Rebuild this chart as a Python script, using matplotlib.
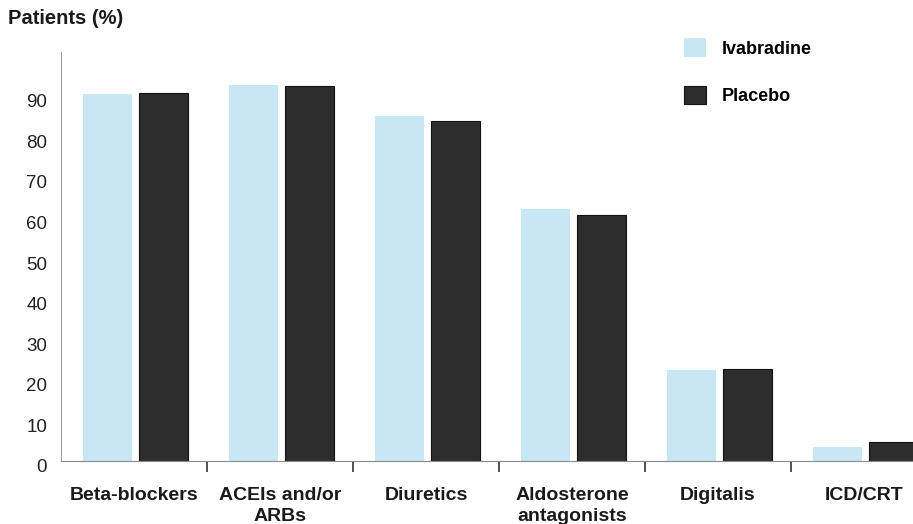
import numpy as np
import matplotlib.pyplot as plt
import matplotlib.transforms as mtransforms
from matplotlib.ticker import FixedLocator

plt.rcParams['font.family'] = ['Liberation Sans', 'DejaVu Sans']

# Tratamientos de base por grupo (% de pacientes)
categorias = ['Beta-blockers', 'ACEIs and/or\nARBs', 'Diuretics',
              'Aldosterone\nantagonists', 'Digitalis', 'ICD/CRT']
ivabradina = [90.4, 92.6, 85.1, 62.1, 22.4, 3.5]
placebo = [90.7, 92.4, 83.8, 60.6, 22.7, 4.8]
ticks_y = [0, 10, 20, 30, 40, 50, 60, 70, 80, 90]

color_iva = '#c6e7f3'
color_pla = '#2d2d2d'

fig = plt.figure(figsize=(9.13, 5.24), dpi=100)
ax = fig.add_axes([61 / 913, 63 / 524, 876 / 913, 409 / 524])

x = np.arange(len(categorias))
ancho = 0.335
ax.bar(x - 0.183, ivabradina, ancho, color=color_iva, label='Ivabradine')
ax.bar(x + 0.2, placebo, ancho, color=color_pla, edgecolor='#111111',
       linewidth=0.8, label='Placebo')

ax.set_xlim(-0.5, len(categorias) - 0.5)
ax.set_ylim(0, 100.8)

ax.set_xticks(x)
ax.set_xticklabels(categorias, fontsize=14, fontweight='bold', color='#1a1a1a',
                   linespacing=1.3)
ax.tick_params(axis='x', which='major', length=0, pad=19)
ax.xaxis.set_minor_locator(FixedLocator(x[:-1] + 0.5))
ax.tick_params(axis='x', which='minor', length=8, width=1.2, color='#333333')

ax.set_yticks(ticks_y)
ax.set_yticklabels([str(t) for t in ticks_y], fontsize=13.5, color='#222222')
ax.tick_params(axis='y', length=0, pad=10)
# etiquetas del eje y un poco más abajo
desplazamiento = mtransforms.ScaledTranslation(0, -5 / 100, fig.dpi_scale_trans)
for etiqueta in ax.get_yticklabels():
    etiqueta.set_transform(etiqueta.get_transform() + desplazamiento)

for lado in ['top', 'right']:
    ax.spines[lado].set_visible(False)
ax.spines['left'].set_color('#9a9a9a')
ax.spines['left'].set_linewidth(0.8)
ax.spines['bottom'].set_color('#8a8a8a')
ax.spines['bottom'].set_linewidth(0.8)

fig.text(8 / 913, 1 - 19 / 524, 'Patients (%)', fontsize=14.5, fontweight='bold',
         color='#1a1a1a', va='center', ha='left')

ax.legend(loc='upper left', bbox_to_anchor=(668 / 913, 1 - 22 / 524),
          bbox_transform=fig.transFigure, frameon=False,
          handlelength=1.2, handleheight=1.2, handletextpad=0.85,
          labelspacing=1.55, prop={'weight': 'bold', 'size': 13})

fig.savefig('out.png', dpi=100)
